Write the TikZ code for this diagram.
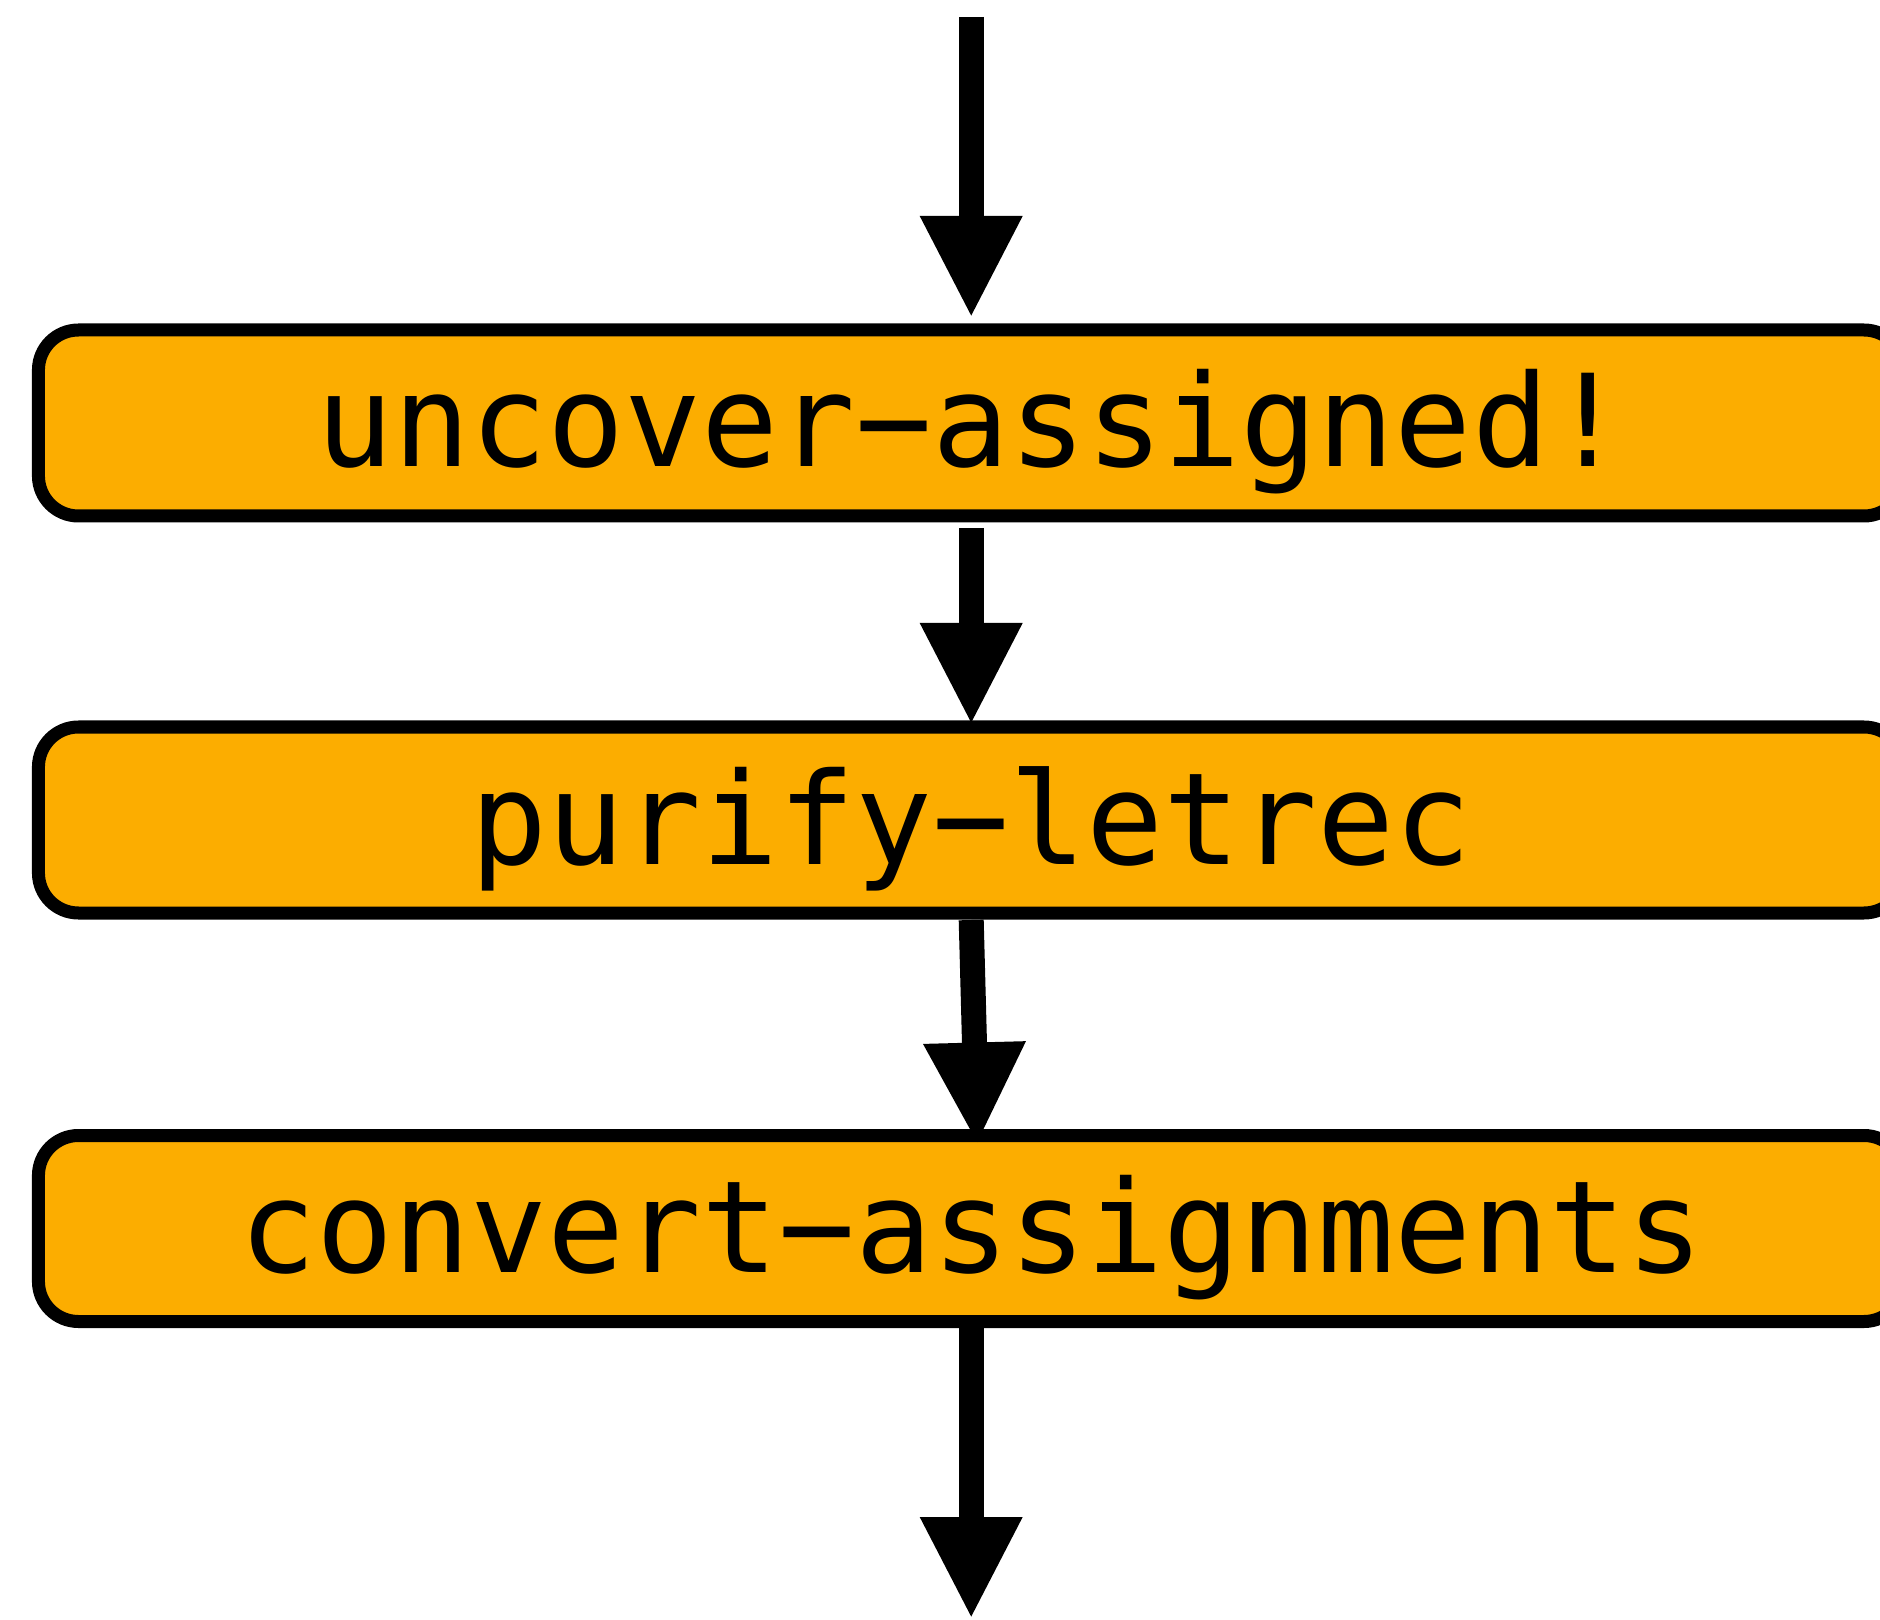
\documentclass[tikz,border=0pt]{standalone}
\usepackage{fontspec}
\newfontfamily\passfont{DejaVu Sans Mono}
\usetikzlibrary{arrows.meta}
\definecolor{passorange}{RGB}{252,173,0}

\begin{document}
\begin{tikzpicture}[> = {Triangle[width = 47.5pt, length = 51pt]}, x = 1pt, y = 1pt]

	% Frame of the page
	
	\useasboundingbox (0, 0) rectangle (940, -810);
	
	% Style of a pass
	
	\tikzset{pass/.style = {draw, line width = 6.5pt, fill = passorange,
		rounded corners = 20pt, minimum width = 932.75pt, minimum height = 93pt,
		inner sep = 0pt, outer sep = 0pt, text height = 44pt, text depth = 0pt,
		font = \passfont\fontsize{64}{64}\selectfont}}
	
	% The three passes
	
	\node [pass] (uncover) at (485.6, -211.5) {uncover−assigned!};
	\node [pass] (purify) at (485.6, -410) {purify−letrec};
	\node [pass] (convert) at (485.6, -614.25) {convert−assignments};
	
	% Where the flow comes in and goes out
	
	\coordinate (in) at (485.6, -8.5);
	\coordinate (out) at (485.6, -809.5);
	
	% Arrows between the passes
	
	\begin{scope}[->, line width = 12.5pt]
	
		\draw (in) -- ([yshift = 6pt] uncover.north);
		\draw ([yshift = -6pt] uncover.south) -- ([yshift = 1pt] purify.north);
		\draw ([yshift = -3.5pt] purify.south) -- ([xshift = 3pt, yshift = -4.5pt] convert.north);
		\draw ([yshift = -3pt] convert.south) -- (out);
		
	\end{scope}
		
\end{tikzpicture}
\end{document}
